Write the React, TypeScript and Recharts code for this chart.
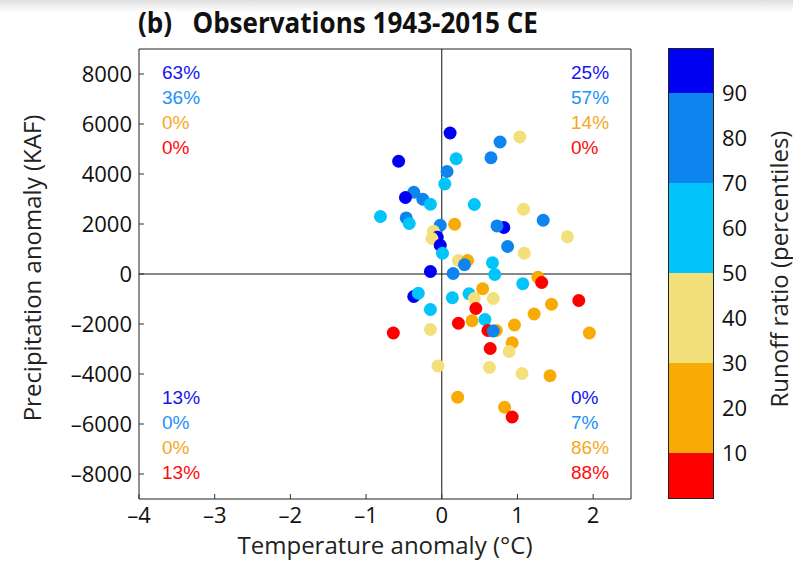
import React from 'react';
import { ScatterChart, Scatter, XAxis, YAxis, ReferenceLine, ReferenceArea, Cell, BarChart, Bar, Text } from 'recharts';

// water-year temperature anomaly (°C), precipitation anomaly (KAF), runoff-ratio bin (lower percentile edge)
const tempAnomaly = [
  0.11, 1.03, 0.77, -0.57, 0.19, 0.65, 0.07, 0.04, -0.37, -0.48, -0.25, -0.15, -0.81, 0.43, 1.08, 1.34,
  -0.47, -0.43, -0.02, 0.17, 0.82, 0.73, 1.66, -0.11, -0.06, -0.13, -0.02, 0.01, 0.87, 1.09, 0.22, 0.34,
  0.30, 0.67, -0.15, 0.15, 0.70, 1.27, 1.32, 1.07, -0.37, -0.31, 0.14, 0.36, 0.43, 0.54, 0.68, 1.81,
  1.45, 1.22, -0.15, 0.45, 0.22, 0.40, 0.57, -0.64, -0.15, 0.61, 0.72, 0.68, 0.96, 1.95, 0.93, 0.64,
  0.89, -0.05, 0.63, 1.06, 1.43, 0.21, 0.83, 0.93,
];
const precipAnomaly = [
  5640, 5480, 5280, 4510, 4610, 4650, 4100, 3600, 3270, 3060, 2990, 2790, 2300, 2780, 2590, 2150,
  2245, 2020, 1950, 1990, 1860, 1925, 1490, 1710, 1470, 1420, 1150, 830, 1100, 830, 540, 540,
  370, 450, 100, 20, -20, -130, -340, -390, -900, -770, -950, -790, -980, -590, -980, -1060,
  -1210, -1600, -1420, -1380, -1970, -1870, -1820, -2360, -2220, -2260, -2260, -2280, -2040, -2360, -2750, -2980,
  -3100, -3680, -3740, -3980, -4070, -4930, -5330, -5720,
];
const runoffBin = [
  90, 30, 70, 90, 50, 70, 70, 50, 70, 90, 70, 50, 50, 50, 30, 70,
  70, 50, 70, 10, 90, 70, 30, 30, 90, 30, 90, 50, 70, 30, 30, 10,
  70, 50, 90, 70, 50, 10, 0, 50, 90, 50, 50, 50, 30, 10, 30, 0,
  10, 10, 50, 0, 0, 10, 50, 0, 30, 0, 10, 70, 10, 10, 10, 0,
  30, 30, 30, 30, 10, 10, 10, 0,
];

const binEdges = [0, 10, 30, 50, 70, 90, 100];
const binColors = ['#FF0000', '#F8AA05', '#F4E07A', '#00C4FA', '#0E84EE', '#0000F2'];
const colorbarTicks = [10, 20, 30, 40, 50, 60, 70, 80, 90];

const xTicks = [-4, -3, -2, -1, 0, 1, 2];
const yTicks = [-8000, -6000, -4000, -2000, 0, 2000, 4000, 6000, 8000];

// share of years per runoff class in each quadrant
const upperLeftPct = ['63%', '36%', '0%', '0%'];
const upperRightPct = ['25%', '57%', '14%', '0%'];
const lowerLeftPct = ['13%', '0%', '0%', '13%'];
const lowerRightPct = ['0%', '7%', '86%', '88%'];
const pctColors = ['#1414F0', '#2291F8', '#F7A81E', '#FF0A0A'];

const points = tempAnomaly.map((t, i) => ({ t, p: precipAnomaly[i], bin: runoffBin[i] }));
const colorFor = (bin: number) => binColors[binEdges.indexOf(bin)];

const FONT = "'Open Sans', 'Noto Sans', sans-serif";
const TICK_FS = 22;
const LABEL_FS = 24;
const TICK_LEN = 5;
const X_GAP = 8;
const Y_GAP = 7;

const fmt = (v: number) => (v < 0 ? '\u2013' + Math.abs(v) : String(v));

const BottomTick = (props: any) => {
  const { x, y, payload } = props;
  const axisY = y - X_GAP;
  return (
    <g>
      <line x1={x} y1={axisY} x2={x} y2={axisY - TICK_LEN} stroke="#333" />
      <Text x={x} y={y} textAnchor="middle" verticalAnchor="start" fontSize={TICK_FS} fontFamily={FONT} fill="#111">
        {fmt(payload.value)}
      </Text>
    </g>
  );
};

const LeftTick = (props: any) => {
  const { x, y, payload } = props;
  const axisX = x + Y_GAP;
  return (
    <g>
      <line x1={axisX} y1={y} x2={axisX + TICK_LEN} y2={y} stroke="#333" />
      <Text x={x} y={y} textAnchor="end" verticalAnchor="middle" fontSize={TICK_FS} fontFamily={FONT} fill="#111">
        {fmt(payload.value)}
      </Text>
    </g>
  );
};

const TopTick = (props: any) => <line x1={props.x} y1={props.y} x2={props.x} y2={props.y + TICK_LEN} stroke="#333" />;
const RightTick = (props: any) => <line x1={props.x} y1={props.y} x2={props.x - TICK_LEN} y2={props.y} stroke="#333" />;

const Dot = (props: any) => <circle cx={props.cx} cy={props.cy} r={6.5} fill={props.fill} />;

const rotatedLabel = (text: string, dx: number, dy: number) => (props: any) => {
  const { x, y, height } = props.viewBox;
  const cx = x + dx;
  const cy = y + height / 2 + dy;
  return (
    <text
      x={cx}
      y={cy}
      transform={`rotate(-90, ${cx}, ${cy})`}
      textAnchor="middle"
      dominantBaseline="central"
      fontSize={LABEL_FS}
      fontFamily={FONT}
      fill="#222"
    >
      {text}
    </text>
  );
};

const PctBlock = ({ left, top, values }: { left: number; top: number; values: string[] }) => (
  <div style={{ position: 'absolute', left, top, fontFamily: "'Liberation Sans', Arial, sans-serif", fontSize: 19, lineHeight: '25px' }}>
    {values.map((v, i) => (
      <div key={i} style={{ color: pctColors[i] }}>{v}</div>
    ))}
  </div>
);

const colorbarRow = [
  binEdges.slice(1).reduce((row: any, edge, i) => {
    row['b' + i] = edge - binEdges[i];
    return row;
  }, { name: 'runoff' }),
];

export default function App() {
  return (
    <div style={{ position: 'absolute', left: 0, top: 0, width: 793, height: 567, background: '#fff', overflow: 'hidden' }}>
      <div style={{ position: 'absolute', left: 0, top: 0, width: 793, height: 12, background: 'linear-gradient(#dedede, #ffffff)' }} />
      <div
        style={{
          position: 'absolute',
          left: 138,
          top: 3,
          fontFamily: "'Open Sans', sans-serif",
          fontWeight: 'bold',
          fontSize: 28,
          color: '#111',
          whiteSpace: 'pre',
          transform: 'scaleX(0.93)',
          transformOrigin: 'left top',
        }}
      >
        {'(b)   Observations 1943-2015 CE'}
      </div>

      <div style={{ position: 'absolute', left: 0, top: 0 }}>
        <ScatterChart width={793} height={567} margin={{ top: 49, right: 162, bottom: 8, left: 19 }}>
          <XAxis
            type="number"
            dataKey="t"
            domain={[-4, 2.5]}
            ticks={xTicks}
            allowDataOverflow
            height={60}
            axisLine={false}
            tickLine={false}
            tickSize={0}
            tickMargin={X_GAP}
            tick={<BottomTick />}
            label={{ value: 'Temperature anomaly (°C)', position: 'insideBottom', offset: 5, fontSize: LABEL_FS, fontFamily: FONT, fill: '#222' }}
          />
          <YAxis
            type="number"
            dataKey="p"
            domain={[-9000, 9000]}
            ticks={yTicks}
            allowDataOverflow
            width={120}
            axisLine={false}
            tickLine={false}
            tickSize={0}
            tickMargin={Y_GAP}
            tick={<LeftTick />}
            label={{ content: rotatedLabel('Precipitation anomaly (KAF)', 12, -6) }}
          />
          <XAxis xAxisId="top" orientation="top" type="number" domain={[-4, 2.5]} ticks={xTicks} allowDataOverflow height={0} axisLine={false} tickLine={false} tickSize={0} tickMargin={0} tick={<TopTick />} />
          <YAxis yAxisId="right" orientation="right" type="number" domain={[-9000, 9000]} ticks={yTicks} allowDataOverflow width={0} axisLine={false} tickLine={false} tickSize={0} tickMargin={0} tick={<RightTick />} />
          <ReferenceArea x1={-4} x2={2.5} y1={-9000} y2={9000} fill="none" stroke="#222" strokeWidth={1} fillOpacity={0} />
          <ReferenceLine x={0} stroke="#111" strokeWidth={1} />
          <ReferenceLine y={0} stroke="#111" strokeWidth={1} />
          <Scatter data={points} isAnimationActive={false} shape={<Dot />}>
            {points.map((pt, i) => (
              <Cell key={i} fill={colorFor(pt.bin)} />
            ))}
          </Scatter>
        </ScatterChart>
      </div>

      <PctBlock left={162} top={60} values={upperLeftPct} />
      <PctBlock left={571} top={60} values={upperRightPct} />
      <PctBlock left={162} top={385} values={lowerLeftPct} />
      <PctBlock left={571} top={385} values={lowerRightPct} />

      <div style={{ position: 'absolute', left: 668, top: 48 }}>
        <BarChart width={125} height={450} data={colorbarRow} margin={{ top: 0, right: 0, bottom: 0, left: 0 }} barCategoryGap={0}>
          <XAxis dataKey="name" hide />
          <YAxis
            orientation="right"
            type="number"
            domain={[0, 100]}
            ticks={colorbarTicks}
            width={80}
            axisLine={false}
            tickLine={false}
            tickSize={0}
            tickMargin={9}
            tick={{ fontSize: TICK_FS, fontFamily: FONT, fill: '#111' }}
            label={{ content: rotatedLabel('Runoff ratio (percentiles)', 65, -4) }}
          />
          {binColors.map((c, i) => (
            <Bar key={i} dataKey={'b' + i} stackId="cb" fill={c} isAnimationActive={false} />
          ))}
        </BarChart>
        <div style={{ position: 'absolute', left: 0, top: 0, width: 44, height: 449, border: '1px solid #222' }} />
      </div>
    </div>
  );
}
